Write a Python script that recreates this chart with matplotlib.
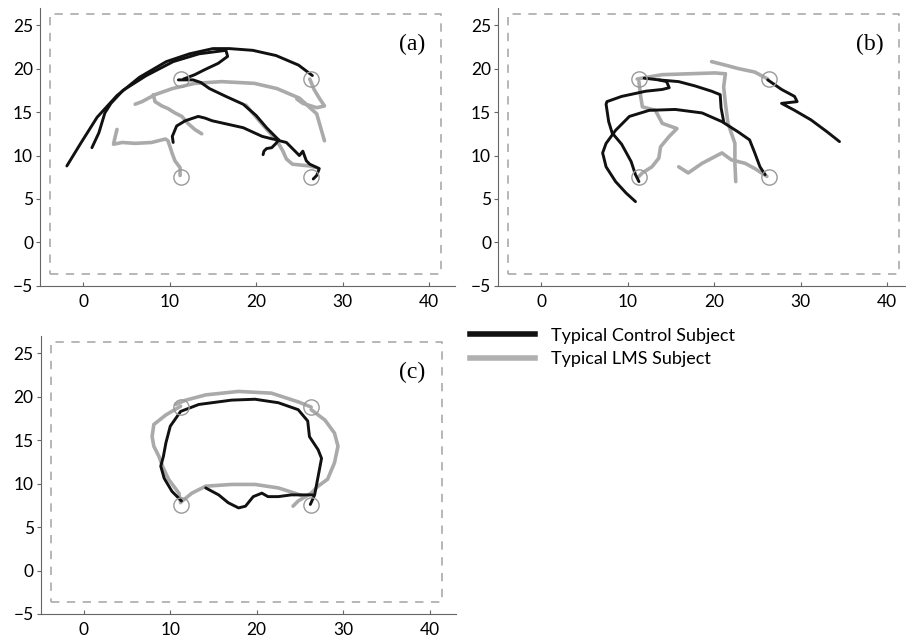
import matplotlib
matplotlib.use("Agg")
import matplotlib.pyplot as plt
from matplotlib.lines import Line2D

# target positions (cm)
target_x = [11.3, 26.3, 11.3, 26.3]
target_y = [18.8, 18.8, 7.5, 7.5]

# workspace boundary
workspace_x = [-3.8, 41.4, 41.4, -3.8, -3.8]
workspace_y = [-3.6, -3.6, 26.3, 26.3, -3.6]

x_ticks = [0, 10, 20, 30, 40]
y_ticks = [-5, 0, 5, 10, 15, 20, 25]
panel_labels = ["(a)", "(b)", "(c)"]
legend_labels = ["Typical Control Subject", "Typical LMS Subject"]

# panel (a)
a_ctrl_1 = [(-1.9, 8.8), (-0.3, 11.4), (1.6, 14.4), (3.9, 16.9), (6.5, 19.0), (9.6, 20.8),
            (12.3, 21.7), (15.0, 22.3), (16.9, 22.3), (19.6, 22.1), (22.3, 21.5), (24.9, 20.4),
            (26.5, 19.2)]
a_ctrl_2 = [(1.0, 10.9), (1.8, 12.6), (2.5, 14.9), (3.2, 16.0), (4.6, 17.5), (7.3, 19.2),
            (10.4, 20.8), (13.4, 21.7), (16.5, 22.1), (16.7, 21.4), (15.6, 20.6), (14.1, 19.9),
            (12.9, 19.3), (11.6, 18.8)]
a_ctrl_3 = [(11.0, 18.7), (12.7, 18.7), (13.6, 18.4), (14.6, 17.7), (16.5, 16.8), (18.5, 15.9),
            (20.0, 14.6), (21.2, 13.2), (22.7, 11.7), (23.5, 11.5), (24.2, 10.8), (25.0, 10.0),
            (25.4, 10.5), (25.8, 9.4), (26.2, 9.0), (27.3, 8.5), (27.0, 7.7), (26.6, 7.3)]
a_ctrl_4 = [(10.4, 11.5), (10.3, 12.2), (10.8, 13.4), (11.8, 14.0), (13.3, 14.5), (14.1, 14.3),
            (14.9, 14.0), (16.7, 13.6), (18.5, 13.2), (20.7, 12.2), (21.9, 11.9), (22.6, 11.8),
            (22.3, 11.4), (21.8, 10.9), (21.2, 10.8), (20.9, 10.5), (20.8, 10.1)]
a_lms_1 = [(6.0, 15.9), (6.8, 16.2), (8.3, 17.0), (10.3, 17.7), (12.9, 18.3), (16.0, 18.5),
           (19.8, 18.3), (22.4, 17.7), (25.0, 16.6), (27.0, 14.8), (27.9, 11.7)]
a_lms_2 = [(8.1, 17.0), (8.3, 16.2), (9.1, 15.7), (9.8, 15.4), (10.6, 14.9), (11.4, 14.5),
           (12.1, 13.7), (12.9, 13.0), (13.7, 12.5)]
a_lms_3 = [(11.2, 7.7), (11.2, 8.6), (10.6, 9.4), (10.3, 10.2), (10.0, 11.1), (9.8, 11.7),
           (9.5, 11.9), (7.9, 11.5), (6.0, 11.4), (4.5, 11.5), (3.5, 11.3), (3.7, 12.2), (3.9, 13.0)]
a_lms_4 = [(26.2, 18.8), (26.7, 17.6), (27.3, 16.6), (27.9, 15.7), (27.0, 15.5), (25.4, 16.0),
           (24.7, 16.5)]
a_lms_5 = [(18.8, 15.8), (20.7, 13.6), (22.4, 11.7), (23.1, 10.5), (23.5, 9.6), (24.2, 9.0),
           (26.2, 8.8), (27.0, 8.6)]

# panel (b)
b_ctrl_1 = [(11.3, 7.0), (10.9, 7.8), (10.4, 9.3), (9.3, 11.3), (8.2, 12.6), (7.8, 13.9),
            (7.5, 15.9), (7.6, 16.2), (9.3, 16.8), (12.1, 17.4), (14.0, 17.6), (14.8, 17.8),
            (14.5, 18.5), (13.6, 18.7), (11.9, 18.9)]
b_ctrl_2 = [(13.6, 18.7), (15.9, 18.5), (17.8, 18.0), (19.7, 17.4), (20.7, 17.0), (20.8, 15.5),
            (21.1, 13.9)]
b_ctrl_3 = [(10.9, 4.7), (9.8, 5.7), (8.6, 7.0), (7.5, 8.7), (7.1, 10.3), (7.5, 11.4), (8.6, 12.9),
            (10.2, 14.5), (12.5, 15.2), (15.5, 15.3), (18.6, 14.9), (20.9, 13.9), (22.8, 12.7),
            (24.1, 11.8), (24.7, 10.3), (25.3, 8.7), (25.9, 7.8)]
b_ctrl_4 = [(26.2, 18.7), (27.8, 17.6), (29.3, 16.8), (29.6, 16.2), (27.8, 16.0), (29.3, 15.2),
            (31.2, 14.1), (33.1, 12.7), (34.5, 11.6)]
b_lms_1 = [(11.1, 18.8), (14.0, 19.3), (17.0, 19.4), (20.1, 19.5), (21.3, 19.4)]
b_lms_2 = [(19.7, 20.8), (21.3, 20.4), (22.8, 20.0), (24.7, 19.6), (26.2, 18.8)]
b_lms_3 = [(21.3, 19.4), (21.1, 17.9), (21.3, 16.0), (21.6, 13.7), (22.4, 11.4), (22.4, 9.1),
           (22.5, 7.0)]
b_lms_4 = [(15.9, 8.7), (17.0, 8.0), (18.6, 9.1), (20.9, 10.3), (22.0, 9.5), (23.6, 9.1),
           (24.7, 8.5), (26.1, 7.6)]
b_lms_5 = [(11.3, 18.5), (11.5, 16.8), (11.7, 15.6), (13.2, 15.2), (14.0, 13.7), (15.7, 13.1),
           (14.8, 12.2), (13.8, 11.0), (13.6, 9.7), (12.8, 8.7), (11.7, 8.0), (11.2, 7.5)]

# panel (c)
c_ctrl_1 = [(11.3, 8.0), (10.2, 9.1), (9.3, 10.6), (8.9, 12.0), (9.2, 13.1), (9.5, 14.7),
            (10.0, 16.6), (11.2, 18.3), (13.3, 19.1), (17.1, 19.6), (19.8, 19.7), (22.5, 19.3),
            (24.8, 18.5), (25.9, 17.2), (26.1, 15.4), (27.1, 13.9), (27.5, 12.9), (27.1, 10.8),
            (26.7, 8.7), (26.2, 7.6)]
c_ctrl_2 = [(26.5, 8.7), (24.0, 8.7), (22.5, 8.5), (21.3, 8.5), (20.6, 8.9), (19.6, 8.5),
            (18.7, 7.4), (17.9, 7.2), (16.7, 7.8), (15.6, 8.7), (14.1, 9.5)]
c_lms_1 = [(10.6, 19.1), (11.8, 19.6), (14.1, 20.2), (17.9, 20.6), (21.7, 20.4), (24.8, 19.4),
           (26.3, 18.8)]
c_lms_2 = [(11.2, 18.9), (9.5, 17.9), (8.1, 16.8), (7.9, 15.4), (8.1, 14.3), (8.7, 13.1),
           (9.1, 12.0), (9.8, 10.5), (11.0, 8.9), (11.2, 7.8)]
c_lms_3 = [(26.3, 18.5), (27.9, 17.3), (29.0, 15.8), (29.4, 14.3), (29.0, 12.4), (28.2, 10.5),
           (27.1, 9.7), (26.3, 8.9), (24.8, 8.0), (24.2, 7.4)]
c_lms_4 = [(11.4, 8.0), (12.5, 8.9), (14.1, 9.7), (17.1, 9.9), (19.8, 9.9), (22.5, 9.5),
           (24.4, 8.9), (25.6, 8.5)]

ctrl = [[a_ctrl_1, a_ctrl_2, a_ctrl_3, a_ctrl_4],
        [b_ctrl_1, b_ctrl_2, b_ctrl_3, b_ctrl_4],
        [c_ctrl_1, c_ctrl_2]]
lms = [[a_lms_1, a_lms_2, a_lms_3, a_lms_4, a_lms_5],
       [b_lms_1, b_lms_2, b_lms_3, b_lms_4, b_lms_5],
       [c_lms_1, c_lms_2, c_lms_3, c_lms_4]]

BLACK = "#111111"
GREY = "#aaaaaa"

fig = plt.figure(figsize=(9.06, 6.44), dpi=100)
positions = [[0.0442, 0.556, 0.458, 0.432],
             [0.5497, 0.556, 0.458, 0.432],
             [0.0448, 0.0466, 0.458, 0.432]]

for i in range(3):
    ax = fig.add_axes(positions[i])
    ax.plot(workspace_x, workspace_y, color="#aaaaaa", lw=1.2, dashes=(5, 4.5))
    for tr in lms[i]:
        ax.plot([p[0] for p in tr], [p[1] for p in tr], color=GREY, lw=2.6,
                solid_joinstyle="round", solid_capstyle="round")
    for tr in ctrl[i]:
        ax.plot([p[0] for p in tr], [p[1] for p in tr], color=BLACK, lw=2.1,
                solid_joinstyle="round", solid_capstyle="round")
    ax.plot(target_x, target_y, "o", ms=11, mfc="none", mec="#999999", mew=1.0)
    ax.text(38.0, 22.8, panel_labels[i], fontsize=17, family="Liberation Serif",
            ha="center", va="center")
    ax.set_xlim(-5, 43)
    ax.set_ylim(-5, 27)
    ax.set_xticks(x_ticks)
    ax.set_yticks(y_ticks)
    ax.set_yticklabels(["\u2212" + str(-v) if v < 0 else str(v) for v in y_ticks])
    for s in ["top", "right"]:
        ax.spines[s].set_visible(False)
    for s in ["left", "bottom"]:
        ax.spines[s].set_color("#666666")
    ax.tick_params(length=3, color="#666666", labelsize=12.5)
    ax.tick_params(axis="y", direction="out", pad=2)
    ax.tick_params(axis="x", direction="in", pad=6)
    for lab in ax.get_xticklabels() + ax.get_yticklabels():
        lab.set_family("Lato")
    ax.patch.set_alpha(0)

handles = [Line2D([], [], color=BLACK, lw=4), Line2D([], [], color="#b0b0b0", lw=4)]
fig.legend(handles, legend_labels, loc="upper left", bbox_to_anchor=(0.519, 0.491),
           frameon=False, handlelength=3.6, handletextpad=0.9, labelspacing=0.42,
           borderpad=0, borderaxespad=0, prop={"family": "Lato", "size": 13})

fig.savefig("out.png", dpi=100)
